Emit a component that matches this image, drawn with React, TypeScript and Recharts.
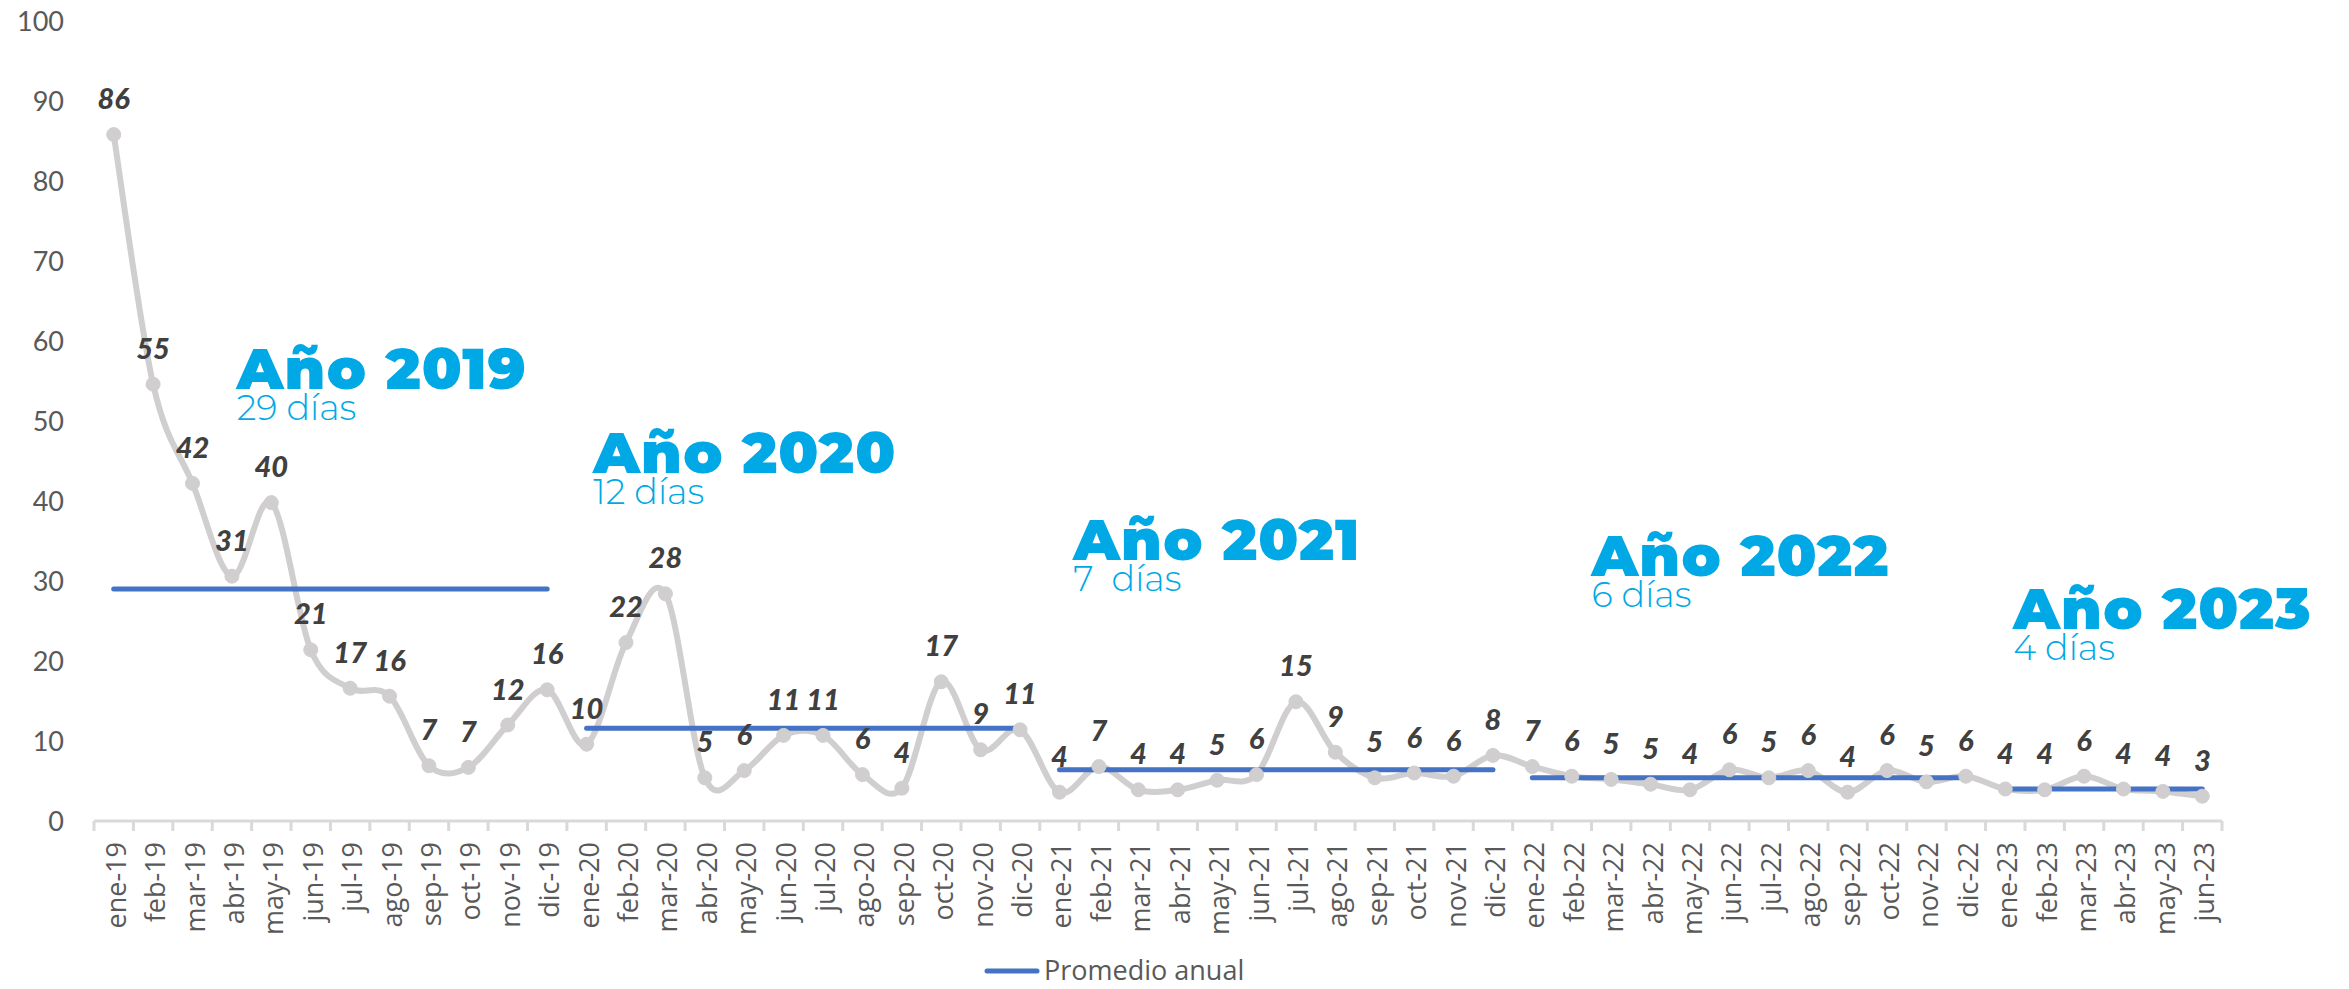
import React from 'react';
import { LineChart, Line, XAxis, YAxis, LabelList, Legend, ReferenceDot } from 'recharts';

const MONTHS = [
  'ene-19', 'feb-19', 'mar-19', 'abr-19', 'may-19', 'jun-19', 'jul-19', 'ago-19', 'sep-19', 'oct-19', 'nov-19', 'dic-19',
  'ene-20', 'feb-20', 'mar-20', 'abr-20', 'may-20', 'jun-20', 'jul-20', 'ago-20', 'sep-20', 'oct-20', 'nov-20', 'dic-20',
  'ene-21', 'feb-21', 'mar-21', 'abr-21', 'may-21', 'jun-21', 'jul-21', 'ago-21', 'sep-21', 'oct-21', 'nov-21', 'dic-21',
  'ene-22', 'feb-22', 'mar-22', 'abr-22', 'may-22', 'jun-22', 'jul-22', 'ago-22', 'sep-22', 'oct-22', 'nov-22', 'dic-22',
  'ene-23', 'feb-23', 'mar-23', 'abr-23', 'may-23', 'jun-23',
];

const VALUES = [
  85.8, 54.6, 42.2, 30.6, 39.8, 21.4, 16.6, 15.6, 6.9, 6.7, 12.0, 16.4,
  9.6, 22.3, 28.4, 5.4, 6.3, 10.7, 10.7, 5.8, 4.1, 17.4, 8.9, 11.4,
  3.6, 6.8, 3.9, 3.9, 5.1, 5.8, 14.9, 8.6, 5.4, 6.0, 5.6, 8.2,
  6.8, 5.6, 5.2, 4.6, 3.9, 6.4, 5.4, 6.3, 3.6, 6.3, 4.9, 5.6,
  4.0, 3.9, 5.6, 4.0, 3.7, 3.1,
];

const YEAR_AVG = [29.0, 11.6, 6.4, 5.4, 4.0];
const YEAR_START = [0, 12, 24, 36, 48];
const YEAR_END = [11, 23, 35, 47, 53];
const YEAR_TITLES = ['Año 2019', 'Año 2020', 'Año 2021', 'Año 2022', 'Año 2023'];
const YEAR_SUBS = ['29 días', '12 días', '7  días', '6 días', '4 días'];
const Y_TICKS = [0, 10, 20, 30, 40, 50, 60, 70, 80, 90, 100];

// annotation anchors in data space (category index, value)
const TITLE_AT_X = [3.12, 12.17, 24.35, 37.5, 48.2];
const TITLE_AT_Y = [54.0, 43.5, 32.6, 30.6, 24.0];

const GRAY = '#D0CECE';
const BLUE = '#4472C4';
const CYAN = '#00A8E6';
const AXIS_TEXT = '#595959';
const LABEL_TEXT = '#404040';

const rows = MONTHS.map((m, i) => {
  const row: any = { i, month: m, v: VALUES[i] };
  YEAR_AVG.forEach((a, k) => {
    if (i >= YEAR_START[k] && i <= YEAR_END[k]) row['avg' + k] = a;
  });
  return row;
});

const X_TICKS = Array.from({ length: MONTHS.length * 2 + 1 }, (_, j) => j / 2 - 0.5);

// Excel-like smoothed line (Catmull-Rom style bezier)
function excelCurve(context: any) {
  let pts: number[][] = [];
  return {
    areaStart() {},
    areaEnd() {},
    lineStart() {
      pts = [];
    },
    point(x: number, y: number) {
      pts.push([+x, +y]);
    },
    lineEnd() {
      if (!pts.length) return;
      context.moveTo(pts[0][0], pts[0][1]);
      for (let i = 0; i < pts.length - 1; i++) {
        const p0 = pts[i - 1] || pts[i];
        const p1 = pts[i];
        const p2 = pts[i + 1];
        const p3 = pts[i + 2] || p2;
        context.bezierCurveTo(
          p1[0] + (p2[0] - p0[0]) / 6,
          p1[1] + (p2[1] - p0[1]) / 6,
          p2[0] - (p3[0] - p1[0]) / 6,
          p2[1] - (p3[1] - p1[1]) / 6,
          p2[0],
          p2[1]
        );
      }
    },
  };
}

const XTick = (props: any) => {
  const { x, y, payload } = props;
  const v = payload.value;
  if (Math.abs(v - Math.round(v)) > 0.01) {
    return <line x1={x} x2={x} y1={y} y2={y + 10} stroke="#D9D9D9" strokeWidth={3} />;
  }
  return (
    <text
      transform={`translate(${x + 12},${y + 21}) rotate(-90)`}
      textAnchor="end"
      fontSize={27}
      fontFamily="'Open Sans', sans-serif"
      fill={AXIS_TEXT}
    >
      {MONTHS[Math.round(v)]}
    </text>
  );
};

const renderValueLabel = (p: any) => {
  const x = p.x ?? p.viewBox?.x;
  const y = p.y ?? p.viewBox?.y;
  if (x == null || y == null) return null;
  return (
    <text
      x={x}
      y={Number(y) - 37}
      textAnchor="middle"
      dominantBaseline="central"
      fontSize={29}
      fontFamily="Lato, sans-serif"
      fontWeight={900}
      fontStyle="italic"
      fill={LABEL_TEXT}
    >
      {Math.round(Number(p.value))}
    </text>
  );
};

const makeTitle = (k: number) => (p: any) => (
  <g>
    <text
      x={p.cx}
      y={p.cy}
      fontSize={58}
      fontWeight={900}
      letterSpacing={1}
      fontFamily="Montserrat, Inter, 'Noto Sans', sans-serif"
      fill={CYAN}
    >
      {YEAR_TITLES[k]}
    </text>
    <text
      x={p.cx}
      y={p.cy + 31}
      fontSize={35}
      fontWeight={300}
      fontFamily="Montserrat, Inter, 'Noto Sans', sans-serif"
      fill={CYAN}
      style={{ whiteSpace: 'pre' }}
    >
      {YEAR_SUBS[k]}
    </text>
  </g>
);

const LegendContent = () => (
  <div
    style={{
      height: 34,
      display: 'flex',
      alignItems: 'flex-start',
      paddingLeft: 984,
      fontFamily: "'Open Sans', sans-serif",
      fontSize: 27,
      color: AXIS_TEXT,
      lineHeight: '30px',
    }}
  >
    <svg width={56} height={30} style={{ marginRight: 4 }}>
      <line x1={3} x2={53} y1={16} y2={16} stroke={BLUE} strokeWidth={5} strokeLinecap="round" />
    </svg>
    <span>Promedio anual</span>
  </div>
);

export default function App() {
  return (
    <div style={{ width: 2349, height: 989 }}>
      <style>{'body{margin:0;}'}</style>
      <LineChart width={2349} height={989} data={rows} margin={{ top: 21, right: 127, left: 0, bottom: 0 }}>
        <XAxis
          dataKey="i"
          type="number"
          domain={[-0.5, MONTHS.length - 0.5]}
          ticks={X_TICKS}
          interval={0}
          tick={<XTick />}
          tickLine={false}
          tickSize={0}
          tickMargin={0}
          axisLine={{ stroke: '#D9D9D9', strokeWidth: 3 }}
          height={134}
        />
        <YAxis
          domain={[0, 100]}
          ticks={Y_TICKS}
          interval={0}
          axisLine={false}
          tickLine={false}
          tickSize={0}
          tickMargin={30}
          width={94}
          tick={{ fill: AXIS_TEXT, fontSize: 27, fontFamily: 'Lato, sans-serif' }}
        />
        <Legend verticalAlign="bottom" align="left" content={<LegendContent />} />
        <Line
          dataKey="v"
          type={excelCurve as any}
          stroke={GRAY}
          strokeWidth={6}
          dot={{ r: 7, fill: GRAY, stroke: GRAY, strokeWidth: 1 }}
          activeDot={false}
          isAnimationActive={false}
          legendType="none"
        >
          <LabelList dataKey="v" content={renderValueLabel} />
        </Line>
        {YEAR_AVG.map((_, k) => (
          <Line
            key={k}
            dataKey={'avg' + k}
            type="linear"
            stroke={BLUE}
            strokeWidth={5}
            strokeLinecap="round"
            dot={false}
            activeDot={false}
            isAnimationActive={false}
            name="Promedio anual"
          />
        ))}
        {YEAR_TITLES.map((_, k) => (
          <ReferenceDot
            key={'t' + k}
            x={TITLE_AT_X[k]}
            y={TITLE_AT_Y[k]}
            r={0}
            shape={makeTitle(k)}
          />
        ))}
      </LineChart>
    </div>
  );
}
